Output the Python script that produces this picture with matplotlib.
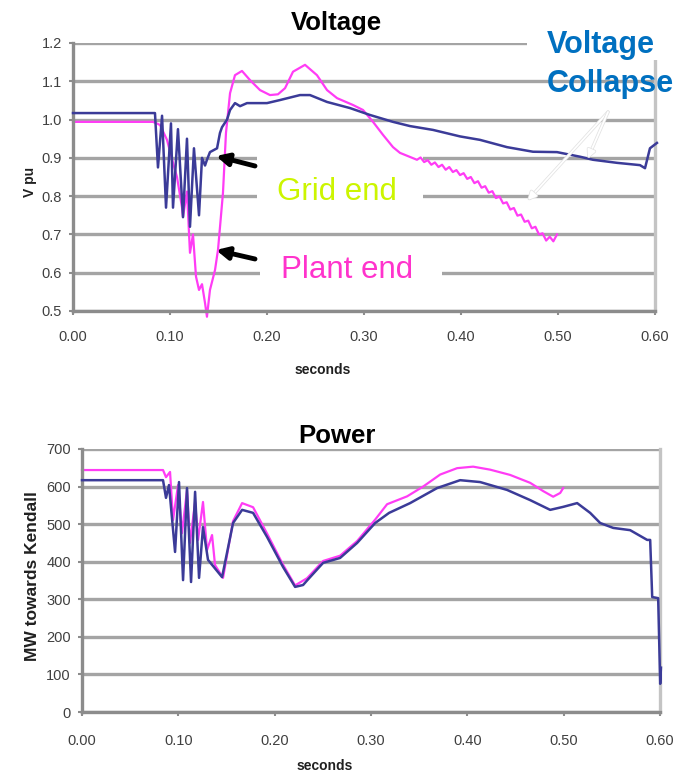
import matplotlib
matplotlib.use("Agg")
from matplotlib import pyplot as plt, rcParams
from matplotlib.patches import Rectangle, FancyArrowPatch
from matplotlib import patheffects as pe

rcParams["font.family"] = ["Liberation Sans", "DejaVu Sans"]

# Voltage at the grid end of the line (pu)
grid_t = [0.000, 0.0845, 0.0876, 0.0918, 0.0959, 0.1010, 0.1031, 0.1082,
          0.1134, 0.1175, 0.1206, 0.1247, 0.1299, 0.1330, 0.1361, 0.1381,
          0.1412, 0.1485, 0.1515, 0.1536, 0.1588, 0.1619, 0.1670, 0.1722,
          0.1794, 0.2000, 0.2134, 0.2340, 0.2443, 0.2619, 0.2856, 0.3062,
          0.3299, 0.3474, 0.3711, 0.3990, 0.4196, 0.4474, 0.4742, 0.4990,
          0.5227, 0.5361, 0.5608, 0.5845, 0.5897, 0.5948, 0.6020]
grid_v = [1.017, 1.017, 0.875, 1.010, 0.770, 0.990, 0.770, 0.975,
          0.745, 0.950, 0.720, 0.925, 0.750, 0.900, 0.880, 0.895,
          0.915, 0.925, 0.965, 0.980, 1.000, 1.025, 1.043, 1.035,
          1.043, 1.043, 1.051, 1.064, 1.064, 1.046, 1.030, 1.012,
          0.994, 0.983, 0.973, 0.956, 0.947, 0.928, 0.916, 0.915,
          0.903, 0.895, 0.887, 0.881, 0.873, 0.925, 0.939]

# Voltage at the plant end of the line (pu)
plant_t = [0.000, 0.0825, 0.0897, 0.0969, 0.1031, 0.1072, 0.1124, 0.1134,
           0.1175, 0.1206, 0.1237, 0.1268, 0.1299, 0.1330, 0.1361, 0.1381,
           0.1412, 0.1464, 0.1495, 0.1546, 0.1577, 0.1619, 0.1670, 0.1742,
           0.1825, 0.1928, 0.2031, 0.2113, 0.2186, 0.2268, 0.2392, 0.2515,
           0.2619, 0.2722, 0.2887, 0.2990, 0.3093, 0.3196, 0.3299, 0.3371,
           0.3546, 0.3583, 0.3620, 0.3657, 0.3694, 0.3731, 0.3768, 0.3805,
           0.3842, 0.3879, 0.3916, 0.3953, 0.3990, 0.4027, 0.4064, 0.4101,
           0.4138, 0.4175, 0.4212, 0.4249, 0.4286, 0.4323, 0.4360, 0.4397,
           0.4434, 0.4471, 0.4508, 0.4545, 0.4582, 0.4619, 0.4656, 0.4693,
           0.4730, 0.4767, 0.4804, 0.4841, 0.4878, 0.4915, 0.4952, 0.4990]
plant_v = [0.994, 0.994, 0.986, 0.947, 0.887, 0.850, 0.770, 0.746,
           0.812, 0.652, 0.700, 0.590, 0.555, 0.570, 0.521, 0.485,
           0.555, 0.607, 0.660, 0.808, 0.965, 1.069, 1.116, 1.127,
           1.103, 1.077, 1.064, 1.066, 1.082, 1.125, 1.143, 1.116,
           1.077, 1.056, 1.038, 1.025, 0.994, 0.960, 0.928, 0.913,
           0.895, 0.901, 0.889, 0.894, 0.882, 0.888, 0.876, 0.882,
           0.869, 0.876, 0.863, 0.868, 0.855, 0.860, 0.845, 0.850,
           0.834, 0.839, 0.822, 0.826, 0.809, 0.813, 0.795, 0.799,
           0.781, 0.784, 0.765, 0.769, 0.749, 0.752, 0.733, 0.736,
           0.716, 0.720, 0.700, 0.703, 0.684, 0.694, 0.682, 0.700]

# Power flow towards Kendall (MW), grid end
pgrid_t = [0.000, 0.0841, 0.0872, 0.0903, 0.0966, 0.1007, 0.1049, 0.1090,
           0.1132, 0.1174, 0.1215, 0.1256, 0.1308, 0.1454, 0.1568, 0.1662,
           0.1776, 0.1921, 0.2087, 0.2212, 0.2295, 0.2336, 0.2503, 0.2679,
           0.2856, 0.3043, 0.3188, 0.3406, 0.3686, 0.3925, 0.4133, 0.4413,
           0.4652, 0.4860, 0.4995, 0.5140, 0.5275, 0.5379, 0.5514, 0.5690,
           0.5867, 0.5898, 0.5919, 0.5981, 0.6002, 0.6010]
pgrid_p = [617, 617, 570, 604, 426, 612, 351, 596,
           346, 586, 357, 492, 405, 359, 503, 538,
           530, 466, 386, 333, 338, 350, 397, 410,
           450, 503, 530, 556, 596, 617, 612, 591,
           564, 538, 546, 556, 530, 503, 490, 484,
           458, 458, 306, 303, 75, 118]

# Power flow towards Kendall (MW), plant end
pplant_t = [0.000, 0.0841, 0.0872, 0.0914, 0.0945, 0.0997, 0.1038, 0.1090,
            0.1121, 0.1174, 0.1205, 0.1256, 0.1298, 0.1350, 0.1381, 0.1464,
            0.1568, 0.1662, 0.1776, 0.1921, 0.2087, 0.2212, 0.2336, 0.2503,
            0.2679, 0.2856, 0.3043, 0.3167, 0.3375, 0.3541, 0.3718, 0.3894,
            0.4060, 0.4237, 0.4444, 0.4652, 0.4787, 0.4891, 0.4964, 0.4995]
pplant_p = [644, 644, 625, 639, 511, 604, 476, 591,
            450, 559, 458, 559, 431, 471, 391, 357,
            508, 556, 545, 475, 392, 337, 356, 402,
            416, 455, 512, 553, 574, 600, 632, 649,
            653, 645, 631, 610, 588, 573, 583, 596]

volt_ticks = [0.5, 0.6, 0.7, 0.8, 0.9, 1.0, 1.1, 1.2]
power_ticks = [0, 100, 200, 300, 400, 500, 600, 700]
time_ticks = [0.0, 0.1, 0.2, 0.3, 0.4, 0.5, 0.6]

W, H = 692, 779
blue = "#3b3b98"
pink = "#ff3cf5"

fig = plt.figure(figsize=(W / 100, H / 100), dpi=100)
ax_v = fig.add_axes([73 / W, 1 - 311 / H, 582 / W, 268 / H])
ax_p = fig.add_axes([82 / W, 1 - 712 / H, 578 / W, 263 / H])

ax_v.plot(grid_t, grid_v, c=blue, lw=1.8, clip_on=False, zorder=3)
ax_v.plot(plant_t, plant_v, c=pink, lw=1.6, clip_on=False, zorder=2)
ax_p.plot(pplant_t, pplant_p, c=pink, lw=1.6, clip_on=False, zorder=2)
ax_p.plot(pgrid_t, pgrid_p, c=blue, lw=1.8, clip_on=False, zorder=3)

ax_v.set_ylim(0.5, 1.2)
ax_v.set_yticks(volt_ticks)
ax_v.set_yticklabels([f"{v:.1f}" for v in volt_ticks])
ax_p.set_ylim(0, 700)
ax_p.set_yticks(power_ticks)
ax_p.set_yticklabels([f"{p}" for p in power_ticks])

for ax, xpad in ((ax_v, 10.5), (ax_p, 12.5)):
    ax.set_xlim(0, 0.60)
    ax.set_xticks(time_ticks)
    ax.set_xticklabels([f"{t:.2f}" for t in time_ticks])
    ax.grid(axis="y", color="#a4a4a4", lw=2.4)
    ax.set_axisbelow(True)
    ax.tick_params(direction="out", length=3, width=1.5, color="#8c8c8c",
                   labelsize=10.5, labelcolor="#404040")
    ax.tick_params(axis="x", pad=xpad)
    ax.tick_params(axis="y", pad=5)
    ax.spines["top"].set_visible(False)
    for side in ("left", "bottom"):
        ax.spines[side].set_color("#8c8c8c")
        ax.spines[side].set_linewidth(2.4)
    ax.spines["right"].set_color("#c4c4c4")
    ax.spines["right"].set_linewidth(2.4)

# Titles and axis labels
fig.text(336 / W, 1 - 30 / H, "Voltage", ha="center", va="baseline",
         fontsize=18.5, fontweight="bold")
fig.text(337 / W, 1 - 443 / H, "Power", ha="center", va="baseline",
         fontsize=18.5, fontweight="bold")
fig.text(323 / W, 1 - 374 / H, "seconds", ha="center", va="baseline",
         fontsize=10, fontweight="bold", color="#202020")
fig.text(325 / W, 1 - 770 / H, "seconds", ha="center", va="baseline",
         fontsize=10, fontweight="bold", color="#202020")
fig.text(30 / W, 1 - 182 / H, "V pu", ha="center", va="center",
         rotation=90, fontsize=10, fontweight="bold", color="#202020")
fig.text(33 / W, 1 - 576 / H, "MW towards Kendall", ha="center", va="center",
         rotation=90, fontsize=12.5, fontweight="bold", color="#202020")


def box(x0, y0, x1, y1, ax=None):
    r = Rectangle((x0 / W, 1 - y1 / H), (x1 - x0) / W, (y1 - y0) / H,
                  transform=fig.transFigure, facecolor="white",
                  edgecolor="none")
    if ax is None:
        r.set_zorder(5)
        fig.add_artist(r)
    else:
        # sits over the gridlines but under the traces
        r.set_zorder(1.5)
        ax.add_patch(r)


def arrow(x0, y0, x1, y1, **kw):
    a = FancyArrowPatch((x0 / W, 1 - y0 / H), (x1 / W, 1 - y1 / H),
                        transform=fig.transFigure, zorder=7, **kw)
    fig.add_artist(a)
    return a


# Call-out labels on white boxes
box(527, 0, W, 60)
box(257, 153, 423, 214, ax=ax_v)
box(260, 238, 442, 300, ax=ax_v)

fig.text(547 / W, 1 - 53 / H, "Voltage", fontsize=22, fontweight="bold",
         color="#0070c0", va="baseline", zorder=6)
fig.text(547 / W, 1 - 92 / H, "Collapse", fontsize=22, fontweight="bold",
         color="#0070c0", va="baseline", zorder=6)
fig.text(277 / W, 1 - 200 / H, "Grid end", fontsize=22.5, color="#ccf500",
         va="baseline", zorder=6)
fig.text(281 / W, 1 - 278 / H, "Plant end", fontsize=22.5, color="#ff33cc",
         va="baseline", zorder=6)

arrow(255, 166, 216, 156, arrowstyle="-|>", mutation_scale=18, lw=3.5,
      color="black", shrinkA=0, shrinkB=0)
arrow(255, 259, 216, 250, arrowstyle="-|>", mutation_scale=18, lw=3.5,
      color="black", shrinkA=0, shrinkB=0)
for tip in ((528, 200), (588, 158)):
    a = arrow(608, 112, *tip, arrowstyle="-|>", mutation_scale=12, lw=1.3,
              color="white", shrinkA=0, shrinkB=0)
    a.set_path_effects([pe.withStroke(linewidth=2.4, foreground="#e2e2e2")])

fig.savefig("out.png", dpi=100)
